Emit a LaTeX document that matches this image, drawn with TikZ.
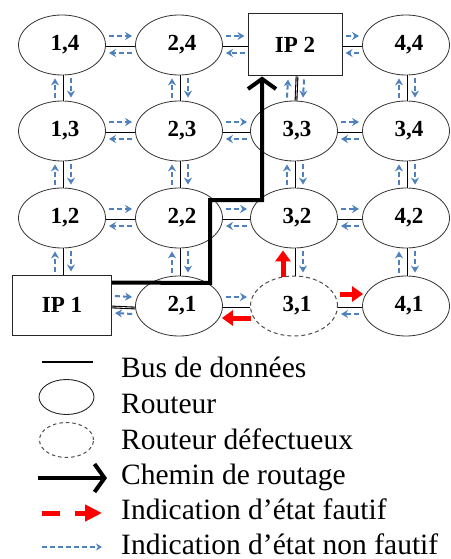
\documentclass[tikz,border=0pt]{standalone}
\usepackage{fontspec}
\setmainfont{Liberation Serif}
\usetikzlibrary{shapes.geometric,arrows.meta,calc}
\definecolor{linkblue}{HTML}{4F81BD}
\definecolor{faultred}{HTML}{FF0000}
\begin{document}
\begin{tikzpicture}[x=1pt,y=-1pt,
  labelfont/.style={font=\fontsize{23}{23}\selectfont\bfseries},
  router/.style={ellipse, draw=black!80, line width=0.8pt, minimum width=87pt, minimum height=60pt, inner sep=0pt, labelfont},
  faulty/.style={router, draw=black!70, line width=1pt, dash pattern=on 4pt off 3pt},
  ipbox/.style={rectangle, draw=black!85, line width=1pt, inner sep=0pt, labelfont},
  bus/.style={draw=black, line width=1.1pt, double=white, double distance=0.6pt},
  okarrow/.style={draw=linkblue, line width=2pt, dash pattern=on 5pt off 3pt, -{Stealth[length=7pt,width=8pt]}},
  faultarrow/.style={draw=faultred, line width=5pt, -{Triangle[length=11pt,width=15pt]}},
  route/.style={draw=black, line width=4pt, -{Straight Barb[length=10pt,width=28pt]}},
  legendtext/.style={anchor=base west, font=\fontsize{29.5}{30}\selectfont, inner sep=0pt}
]
\useasboundingbox (0,0) rectangle (450,559);

% ---------- nodes ----------
\node[router] (n14) at (62,45)  {\hspace*{6pt}1,4};
\node[router] (n24) at (179,45) {\hspace*{6pt}2,4};
\node[ipbox, minimum width=94pt, minimum height=62pt] (ip2) at (295,45) {IP 2};
\node[router] (n44) at (406,45) {\hspace*{6pt}4,4};

\node[router] (n13) at (62,131)  {\hspace*{6pt}1,3};
\node[router] (n23) at (179,131) {\hspace*{6pt}2,3};
\node[router] (n33) at (294,131) {\hspace*{6pt}3,3};
\node[router] (n34) at (406,131) {\hspace*{6pt}3,4};

\node[router] (n12) at (62,218)  {\hspace*{6pt}1,2};
\node[router] (n22) at (179,218) {\hspace*{6pt}2,2};
\node[router] (n32) at (294,218) {\hspace*{6pt}3,2};
\node[router] (n42) at (406,218) {\hspace*{6pt}4,2};

\node[ipbox, minimum width=99pt, minimum height=60pt] (ip1) at (62,305) {IP 1};
\node[router] (n21) at (179,306) {\hspace*{6pt}2,1};
\node[faulty] (n31) at (294,306) {\hspace*{6pt}3,1};
\node[router] (n41) at (406,306) {\hspace*{6pt}4,1};

% ---------- horizontal links ----------
\foreach \a/\b in {n14/n24, n24/ip2, ip2/n44, n13/n23, n23/n33, n33/n34,
                   n12/n22, n22/n32, n32/n42, ip1/n21, n21/n31, n31/n41}{
  \draw[bus] ([yshift=-2pt]\a.east) -- ([yshift=-2pt]\b.west);
}
\foreach \a/\b in {n14/n24, n24/ip2, ip2/n44, n13/n23, n23/n33, n33/n34,
                   n12/n22, n22/n32, n32/n42, ip1/n21, n21/n31}{
  \draw[okarrow] ([xshift=3pt,yshift=9pt]\a.east) -- ([xshift=-3pt,yshift=9pt]\b.west);
}
\foreach \a/\b in {n14/n24, n24/ip2, ip2/n44, n13/n23, n23/n33, n33/n34,
                   n12/n22, n22/n32, n32/n42, ip1/n21, n31/n41}{
  \draw[okarrow] ([xshift=-3pt,yshift=-8pt]\b.west) -- ([xshift=3pt,yshift=-8pt]\a.east);
}

% ---------- vertical links ----------
\foreach \a/\b in {n14/n13, n13/n12, n12/ip1, n24/n23, n23/n22, n22/n21,
                   ip2/n33, n33/n32, n32/n31, n44/n34, n34/n42, n42/n41}{
  \draw[bus] ([xshift=2pt]\a.south) -- ([xshift=2pt]\b.north);
  \draw[okarrow] ([xshift=9pt,yshift=-3pt]\a.south) -- ([xshift=9pt,yshift=3pt]\b.north);
}
\foreach \a/\b in {n14/n13, n13/n12, n12/ip1, n24/n23, n23/n22, n22/n21,
                   ip2/n33, n33/n32, n44/n34, n34/n42, n42/n41}{
  \draw[okarrow] ([xshift=-7pt,yshift=3pt]\b.north) -- ([xshift=-7pt,yshift=-3pt]\a.south);
}

% ---------- faulty-state indications ----------
\draw[faultarrow] ([xshift=-11pt,yshift=-1pt]n31.north) -- ([xshift=-11pt,yshift=-2pt]n32.south);
\draw[faultarrow] ([xshift=1pt,yshift=-12pt]n31.west) -- ([xshift=-1pt,yshift=-12pt]n21.east);
\draw[faultarrow] ([xshift=2pt,yshift=12pt]n31.east) -- ([xshift=1pt,yshift=12pt]n41.west);

% ---------- routing path ----------
\coordinate (p1) at (210,283);
\coordinate (p2) at (210,200);
\coordinate (p3) at (262,200);
\draw[route] ([yshift=-8pt]ip1.north east) -- (p1) -- (p2) -- (p3) -- (p3 |- ip2.south);

% ---------- legend ----------
\coordinate (lb1) at (42,362);  \coordinate (lb2) at (93,362);
\draw[black, line width=2.5pt] (lb1) -- (lb2);
\node[ellipse, draw=black!85, line width=0.9pt, minimum width=55pt, minimum height=35pt, inner sep=0pt] (lrouter) at (66.5,397) {};
\node[ellipse, draw=black!70, line width=1pt, dash pattern=on 3.5pt off 3pt, minimum width=54pt, minimum height=35pt, inner sep=0pt] (lfaulty) at (66.5,440) {};
\coordinate (lc1) at (38,478);  \coordinate (lc2) at (107,478);
\draw[route] (lc1) -- (lc2);
\coordinate (lr1) at (42,513);  \coordinate (lr2) at (102,513);
\draw[draw=faultred, line width=5pt, dash pattern=on 18pt off 15pt, -{Triangle[length=17pt,width=16pt]}] (lr1) -- (lr2);
\coordinate (lo1) at (42,547);  \coordinate (lo2) at (102,547);
\draw[draw=linkblue, line width=1.6pt, dash pattern=on 5pt off 3pt, -{Stealth[length=6pt,width=7pt]}] (lo1) -- (lo2);

\node[legendtext] (t1) at (121,377) {Bus de données};
\node[legendtext] (t2) at (121,413) {Routeur};
\node[legendtext] (t3) at (121,449) {Routeur défectueux};
\node[legendtext] (t4) at (121,484) {Chemin de routage};
\node[legendtext] (t5) at (121,519) {Indication d’état fautif};
\node[legendtext] (t6) at (121,554) {Indication d’état non fautif};
\end{tikzpicture}
\end{document}
